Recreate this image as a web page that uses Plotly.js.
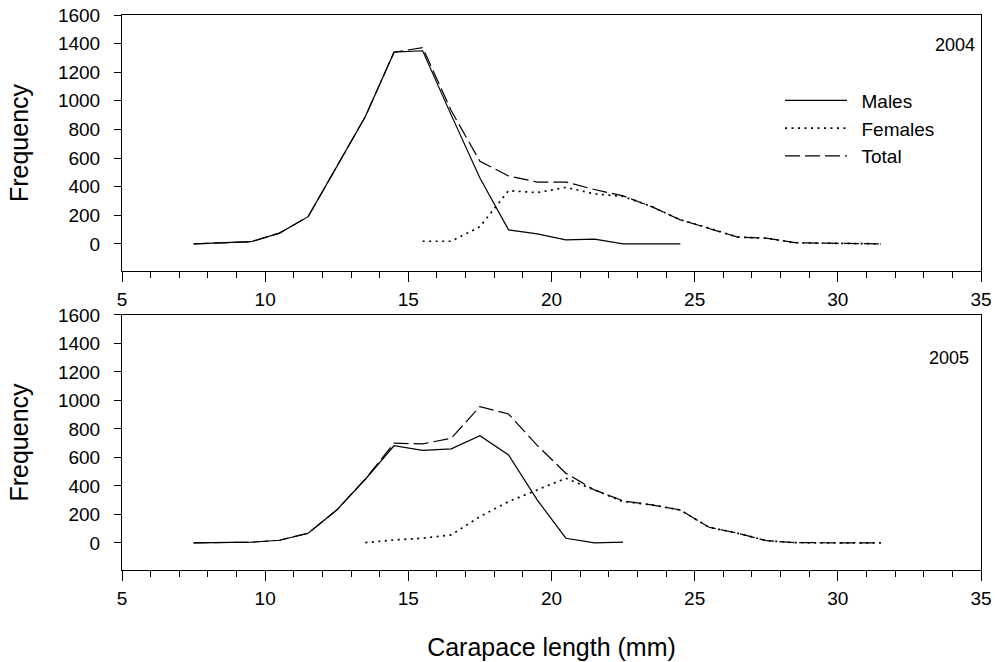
<!DOCTYPE html>
<html>
<head>
<meta charset="utf-8">
<script src="https://cdn.plot.ly/plotly-3.0.1.min.js"></script>
<style>html,body{margin:0;padding:0;background:#fff;}#chart{width:995px;height:662px;}</style>
</head>
<body>
<div id="chart"></div>
<script>
// Carapace length class midpoints (mm)
const lengths2004Males   = [7.5,8.5,9.5,10.5,11.5,12.5,13.5,14.5,15.5,16.5,17.5,18.5,19.5,20.5,21.5,22.5,23.5,24.5];
const males2004          = [0,5,15,75,190,540,890,1340,1350,900,460,98,70,28,33,0,0,0];
const lengths2004Females = [15.5,16.5,17.5,18.5,19.5,20.5,21.5,22.5,23.5,24.5,25.5,26.5,27.5,28.5,29.5,30.5,31.5];
const females2004        = [18,18,120,372,358,395,349,332,260,168,110,47,40,8,5,3,0];
const lengths2004Total   = [7.5,8.5,9.5,10.5,11.5,12.5,13.5,14.5,15.5,16.5,17.5,18.5,19.5,20.5,21.5,22.5,23.5,24.5,25.5,26.5,27.5,28.5,29.5,30.5,31.5];
const total2004          = [0,5,15,75,190,540,890,1340,1372,930,577,475,432,432,380,335,260,168,110,47,40,8,5,3,0];

const lengths2005Males   = [7.5,8.5,9.5,10.5,11.5,12.5,13.5,14.5,15.5,16.5,17.5,18.5,19.5,20.5,21.5,22.5];
const males2005          = [0,0,5,19,68,231,447,682,650,660,753,618,302,33,0,5];
const lengths2005Females = [13.5,14.5,15.5,16.5,17.5,18.5,19.5,20.5,21.5,22.5,23.5,24.5,25.5,26.5,27.5,28.5,29.5,30.5,31.5];
const females2005        = [2,21,33,56,185,290,372,454,372,290,267,231,110,68,16,2,0,0,0];
const lengths2005Total   = [7.5,8.5,9.5,10.5,11.5,12.5,13.5,14.5,15.5,16.5,17.5,18.5,19.5,20.5,21.5,22.5,23.5,24.5,25.5,26.5,27.5,28.5,29.5,30.5,31.5];
const total2005          = [0,0,5,19,68,231,449,700,695,735,957,905,685,489,372,295,267,231,110,68,16,2,0,0,0];

const seriesNames = ['Males','Females','Total'];
const yearLabels = ['2004','2005'];
const yTicks = [0,200,400,600,800,1000,1200,1400,1600];
const xTicks = [5,10,15,20,25,30,35];

const FONT = 'Liberation Sans, Arial, sans-serif';
const styles = {
  Males:   {color:'#000', width:1.2, dash:'solid'},
  Females: {color:'#000', width:1.7, dash:'2px,4.5px'},
  Total:   {color:'#000', width:1.2, dash:'15px,5px'}
};

function tr(x, y, name, xa, ya, show) {
  return {x:x, y:y, type:'scatter', mode:'lines', name:'\u2002' + name, line:styles[name],
          xaxis:xa, yaxis:ya, showlegend:show, legendgroup:name, hoverinfo:'x+y'};
}

const data = [
  tr(lengths2004Males, males2004, seriesNames[0], 'x', 'y', true),
  tr(lengths2004Females, females2004, seriesNames[1], 'x', 'y', true),
  tr(lengths2004Total, total2004, seriesNames[2], 'x', 'y', true),
  tr(lengths2005Males, males2005, seriesNames[0], 'x2', 'y2', false),
  tr(lengths2005Females, females2005, seriesNames[1], 'x2', 'y2', false),
  tr(lengths2005Total, total2005, seriesNames[2], 'x2', 'y2', false)
];

function xax(anchor) {
  return {
    anchor:anchor, range:[5,35], tickvals:xTicks, ticktext:xTicks.map(String),
    ticks:'outside', ticklen:10, tickwidth:1, tickcolor:'#000',
    minor:{dtick:1, ticks:'outside', ticklen:6, tickwidth:1, tickcolor:'#000'},
    showline:true, linecolor:'#000', linewidth:1, mirror:true,
    showgrid:false, zeroline:false, ticklabelstandoff:1,
    tickfont:{family:FONT, size:19, color:'#000'}
  };
}
function yax(anchor, domain) {
  return {
    anchor:anchor, domain:domain, range:[-190,1600], tickvals:yTicks, ticktext:yTicks.map(String),
    ticks:'outside', ticklen:7, tickwidth:1, tickcolor:'#000',
    showline:true, linecolor:'#000', linewidth:1, mirror:true,
    showgrid:false, zeroline:false, ticklabelstandoff:10,
    tickfont:{family:FONT, size:19, color:'#000'},
    title:{text:'Frequency', font:{family:FONT, size:25, color:'#000'}, standoff:22}
  };
}

const layout = {
  width:995, height:662,
  margin:{l:122, r:14, t:15, b:92},
  paper_bgcolor:'#fff', plot_bgcolor:'#fff',
  showlegend:true,
  xaxis: xax('y'),
  yaxis: yax('x', [0.5387, 1]),
  xaxis2: Object.assign(xax('y2'), {
    title:{text:'Carapace length (mm)', font:{family:FONT, size:25, color:'#000'}, standoff:30}
  }),
  yaxis2: yax('x2', [0, 0.4595]),
  legend:{
    x:0.766, y:0.88, xanchor:'left', yanchor:'top',
    bgcolor:'rgba(0,0,0,0)', borderwidth:0,
    font:{family:FONT, size:19, color:'#000'},
    traceorder:'grouped', tracegroupgap:0, itemwidth:62
  },
  annotations:[
    {text:yearLabels[0], xref:'x domain', yref:'y domain', x:0.97, y:0.883, showarrow:false,
     xanchor:'center', yanchor:'middle', font:{family:FONT, size:18, color:'#000'}},
    {text:yearLabels[1], xref:'x2 domain', yref:'y2 domain', x:0.963, y:0.831, showarrow:false,
     xanchor:'center', yanchor:'middle', font:{family:FONT, size:18, color:'#000'}}
  ]
};

Plotly.newPlot('chart', data, layout, {displayModeBar:false, staticPlot:true});
</script>
</body>
</html>
